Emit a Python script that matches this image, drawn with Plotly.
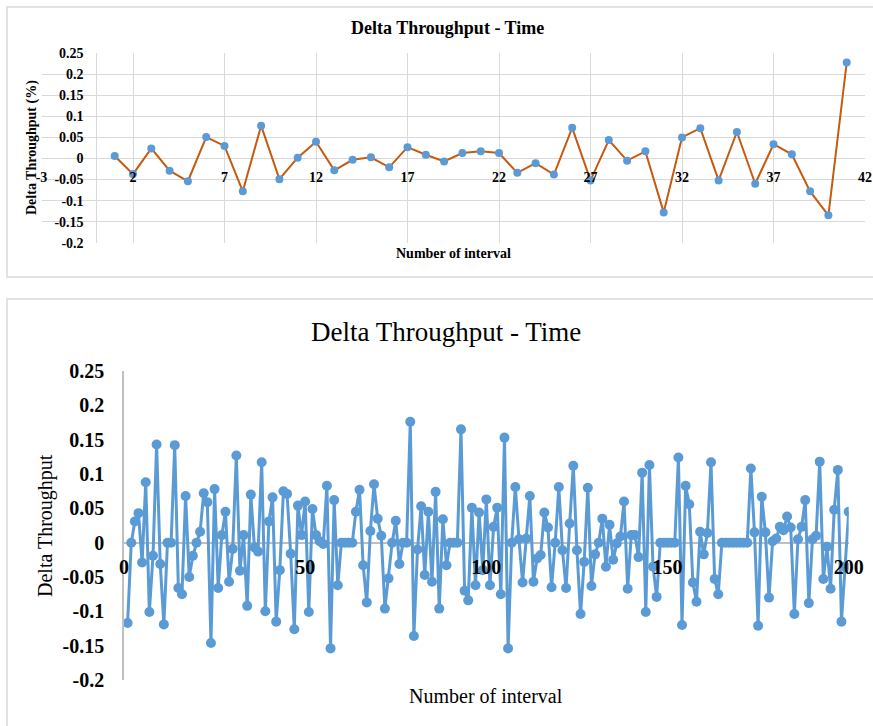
import plotly.graph_objects as go

W, H = 873, 726

# ---------------- data ----------------
top_x = list(range(1, 42))
top_y = [0.006, -0.037, 0.024, -0.029, -0.054, 0.051, 0.030, -0.078, 0.078, -0.049,
         0.002, 0.040, -0.028, -0.003, 0.003, -0.021, 0.027, 0.009, -0.007, 0.013,
         0.017, 0.013, -0.034, -0.011, -0.038, 0.073, -0.052, 0.044, -0.005, 0.017,
         -0.128, 0.050, 0.072, -0.052, 0.063, -0.060, 0.034, 0.010, -0.078, -0.135, 0.228]

bot_x = list(range(1, 201))
bot_y = [-0.117, 0, 0.031, 0.043, -0.029, 0.088, -0.101, -0.019, 0.143, -0.031,
         -0.119, 0, 0, 0.142, -0.066, -0.075, 0.068, -0.050, -0.019, 0,
         0.016, 0.072, 0.059, -0.146, 0.078, -0.066, 0.011, 0.045, -0.057, -0.009,
         0.127, -0.041, 0.011, -0.092, 0.070, -0.007, -0.013, 0.117, -0.100, 0.031,
         0.066, -0.115, -0.040, 0.075, 0.071, -0.016, -0.126, 0.054, 0.011, 0.060,
         -0.101, 0.049, 0.011, 0.002, -0.002, 0.083, -0.154, 0.062, -0.062, 0,
         0, 0, 0, 0.045, 0.077, -0.033, -0.087, 0.017, 0.085, 0.035,
         0.010, -0.096, -0.052, 0, 0.032, -0.031, 0, 0, 0.176, -0.136,
         -0.010, 0.053, -0.047, 0.045, -0.057, 0.074, -0.096, 0.034, -0.033, 0,
         0, 0, 0.165, -0.070, -0.084, 0.051, -0.062, 0.044, -0.040, 0.063,
         -0.062, 0.023, 0.051, -0.075, 0.153, -0.154, 0, 0.081, 0.005, -0.058,
         0.006, 0.068, -0.057, -0.023, -0.018, 0.044, 0.022, -0.065, 0, 0.081,
         -0.011, -0.066, 0.028, 0.112, -0.011, -0.104, -0.028, 0.080, -0.063, -0.017,
         0, 0.035, -0.035, 0.026, -0.025, -0.001, 0.009, 0.060, -0.067, 0.011,
         0.011, -0.021, 0.102, -0.101, 0.113, -0.035, -0.079, 0, 0, 0,
         0, 0, 0.124, -0.120, 0.083, 0.056, -0.058, -0.086, 0.016, -0.017,
         0.014, 0.117, -0.053, -0.075, 0, 0, 0, 0, 0, 0,
         0, 0, 0.108, 0.015, -0.121, 0.067, 0.015, -0.080, 0.002, 0.006,
         0.023, 0.018, 0.038, 0.022, -0.104, 0.005, 0.023, 0.062, -0.088, 0.005,
         0.010, 0.118, -0.053, -0.006, -0.067, 0.048, 0.106, -0.115, -0.035, 0.045]

y_tickvals = [0.25, 0.2, 0.15, 0.1, 0.05, 0, -0.05, -0.1, -0.15, -0.2]
y_ticktext = ["0.25", "0.2", "0.15", "0.1", "0.05", "0", "-0.05", "-0.1", "-0.15", "-0.2"]
top_x_tickvals = [-3, 2, 7, 12, 17, 22, 27, 32, 37, 42]
top_x_ticktext = ["-3", "2", "7", "12", "17", "22", "27", "32", "37", "42"]
bot_x_tickvals = [0, 50, 100, 150, 200]
bot_x_ticktext = ["0", "50", "100", "150", "200"]

title_text = "Delta Throughput - Time"
top_ytitle = "Delta Throughput (%)"
bot_ytitle = "Delta Throughput"
xtitle = "Number of interval"

# ---------------- layout helpers ----------------
SERIF = "Liberation Serif"
def px_x(p): return p / W
def px_y(p): return 1 - p / H

top_xdom = [px_x(41.5), px_x(865)]
top_ydom = [px_y(242.7), px_y(53.3)]
top_xr = [-3, 42]
top_yr = [-0.2, 0.25]
bot_xdom = [px_x(124), px_x(848.7)]
bot_ydom = [px_y(680), px_y(371)]
bot_xr = [0, 200]
bot_yr = [-0.2, 0.25]

def at(dom, rng, v):
    return dom[0] + (v - rng[0]) / (rng[1] - rng[0]) * (dom[1] - dom[0])

fig = go.Figure()
fig.add_trace(go.Scatter(x=top_x, y=top_y, mode="lines+markers",
                         line=dict(color="#C55A11", width=2),
                         marker=dict(color="#5B9BD5", size=8),
                         xaxis="x", yaxis="y", showlegend=False))
fig.add_trace(go.Scatter(x=bot_x, y=bot_y, mode="lines+markers",
                         line=dict(color="#5B9BD5", width=3),
                         marker=dict(color="#5B9BD5", size=10),
                         xaxis="x2", yaxis="y2", showlegend=False))

grid = "#d9d9d9"
fig.update_layout(
    template="none",
    width=W, height=H, margin=dict(l=0, r=0, t=0, b=0, autoexpand=False),
    paper_bgcolor="white", plot_bgcolor="white",
    font=dict(family=SERIF, color="black"),
    xaxis=dict(domain=top_xdom, range=top_xr, anchor="free", automargin=False,
               position=at(top_ydom, top_yr, 0),
               tickvals=top_x_tickvals, ticktext=top_x_ticktext,
               tickfont=dict(size=14, weight="bold", family=SERIF),
               ticks="outside", ticklen=6, tickcolor="rgba(0,0,0,0)",
               showgrid=True, gridcolor=grid, gridwidth=1,
               zeroline=True, zerolinecolor=grid, zerolinewidth=1,
               showline=False),
    yaxis=dict(domain=top_ydom, range=top_yr, anchor="free", automargin=False,
               position=at(top_xdom, top_xr, 0),
               tickvals=y_tickvals, ticktext=y_ticktext,
               tickfont=dict(size=14, weight="bold", family=SERIF),
               ticks="outside", ticklen=10, tickcolor="rgba(0,0,0,0)",
               showgrid=True, gridcolor=grid, gridwidth=1,
               zeroline=True, zerolinecolor=grid, zerolinewidth=1,
               showline=False),
    xaxis2=dict(domain=bot_xdom, range=bot_xr, anchor="free", automargin=False,
                position=at(bot_ydom, bot_yr, 0),
                tickvals=bot_x_tickvals, ticktext=bot_x_ticktext,
                tickfont=dict(size=20, weight="bold", family=SERIF),
                ticks="outside", ticklen=6, tickcolor="rgba(0,0,0,0)",
                showgrid=False, zeroline=False, showline=False),
    yaxis2=dict(domain=bot_ydom, range=bot_yr, anchor="x2", automargin=False,
                tickvals=y_tickvals, ticktext=y_ticktext,
                tickfont=dict(size=20, weight="bold", family=SERIF),
                ticks="outside", ticklen=14, tickcolor="rgba(0,0,0,0)",
                showgrid=False, zeroline=True, zerolinecolor="#bfbfbf", zerolinewidth=2,
                showline=True, linecolor="#bfbfbf", linewidth=1.5),
)

fig.update_layout(shapes=[
    dict(type="rect", xref="paper", yref="paper",
         x0=px_x(7), x1=1.05, y0=px_y(277), y1=px_y(7),
         line=dict(color=grid, width=1.5), fillcolor="rgba(0,0,0,0)", layer="below"),
    dict(type="rect", xref="paper", yref="paper",
         x0=px_x(7), x1=1.05, y0=-0.05, y1=px_y(299),
         line=dict(color=grid, width=1.5), fillcolor="rgba(0,0,0,0)", layer="below"),
])

fig.update_layout(annotations=[
    dict(text=title_text, x=px_x(447.5), y=px_y(28), xref="paper", yref="paper",
         showarrow=False, xanchor="center", yanchor="middle",
         font=dict(size=18, weight="bold", family=SERIF)),
    dict(text=top_ytitle, x=px_x(32), y=px_y(148), xref="paper", yref="paper",
         showarrow=False, xanchor="center", yanchor="middle", textangle=-90,
         font=dict(size=14, weight="bold", family=SERIF)),
    dict(text=xtitle, x=px_x(453), y=px_y(253), xref="paper", yref="paper",
         showarrow=False, xanchor="center", yanchor="middle",
         font=dict(size=14, weight="bold", family=SERIF)),
    dict(text=title_text, x=px_x(446.5), y=px_y(332), xref="paper", yref="paper",
         showarrow=False, xanchor="center", yanchor="middle",
         font=dict(size=27, family=SERIF)),
    dict(text=bot_ytitle, x=px_x(45), y=px_y(526), xref="paper", yref="paper",
         showarrow=False, xanchor="center", yanchor="middle", textangle=-90,
         font=dict(size=20, family=SERIF)),
    dict(text=xtitle, x=px_x(486), y=px_y(696), xref="paper", yref="paper",
         showarrow=False, xanchor="center", yanchor="middle",
         font=dict(size=20, family=SERIF)),
])

fig.write_html("out.html")
